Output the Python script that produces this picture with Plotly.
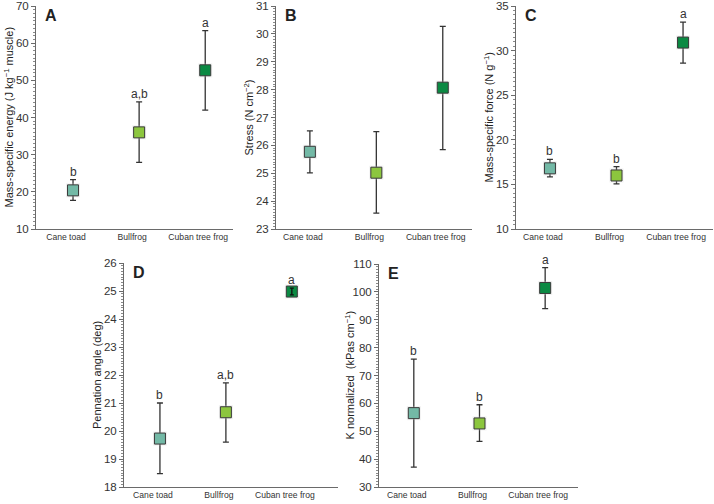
import plotly.graph_objects as go

W, H = 714, 504

categories = ["Cane toad", "Bullfrog", "Cuban tree frog"]
colors = ["#73b9a6", "#8cc63e", "#0b8a43"]

energy_mean = [20.4, 36.0, 52.7]
energy_upper = [23.3, 44.2, 63.4]
energy_lower = [17.7, 27.9, 42.0]
energy_letters = ["b", "a,b", "a"]

stress_mean = [25.77, 25.02, 28.07]
stress_upper = [26.52, 26.49, 30.27]
stress_lower = [25.01, 23.57, 25.85]
stress_letters = ["", "", ""]

force_mean = [16.8, 16.0, 30.9]
force_upper = [17.8, 17.0, 33.2]
force_lower = [15.85, 15.05, 28.6]
force_letters = ["b", "b", "a"]

pennation_mean = [19.73, 20.67, 24.98]
pennation_upper = [21.0, 21.72, 25.1]
pennation_lower = [18.48, 19.6, 24.86]
pennation_letters = ["b", "a,b", "a"]

k_mean = [56.5, 52.8, 101.4]
k_upper = [75.9, 59.5, 108.7]
k_lower = [37.1, 46.4, 94.0]
k_letters = ["b", "b", "a"]

FONT = "Liberation Sans, Arial, sans-serif"

panels = [
    ("A", "Mass-specific energy (J kg<sup>−1</sup> muscle)", energy_mean, energy_upper, energy_lower, energy_letters,
     [10, 70], 10, 1, 36, 233, 6, 229, [-0.56, 2.42], 8),
    ("B", "Stress (N cm<sup>−2</sup>)", stress_mean, stress_upper, stress_lower, stress_letters,
     [23, 31], 1, 0.1, 276, 472, 6, 229, [-0.51, 2.44], 248),
    ("C", "Mass-specific force (N g<sup>−1</sup>)", force_mean, force_upper, force_lower, force_letters,
     [10, 35], 5, 0.5, 516, 713, 6, 229, [-0.51, 2.45], 488),
    ("D", "Pennation angle (deg)", pennation_mean, pennation_upper, pennation_lower, pennation_letters,
     [18, 26], 1, 0.1, 124, 338, 263, 487, [-0.545, 2.70], 97),
    ("E", "K normalized  (kPas cm<sup>−1</sup>)", k_mean, k_upper, k_lower, k_letters,
     [30, 110], 10, 1, 379, 578, 264, 487, [-0.53, 2.50], 349),
]

fig = go.Figure()
annotations = []
ERR = "#333333"

for i, (lab, ytitle, mean, up, lo, letters, yr, dt, mn, xl, xr, yt, yb, xrng, tx) in enumerate(panels):
    n = "" if i == 0 else str(i + 1)
    xa, ya = "x" + n, "y" + n
    xs = list(range(len(categories)))
    plus = [u - m for u, m in zip(up, mean)]
    minus = [m - l for m, l in zip(mean, lo)]
    # error bars
    fig.add_trace(go.Scatter(
        x=xs, y=mean, mode="markers", xaxis=xa, yaxis=ya,
        marker=dict(size=1, color="rgba(0,0,0,0)"),
        error_y=dict(type="data", symmetric=False, array=plus, arrayminus=minus,
                     color=ERR, thickness=1.3, width=3),
        showlegend=False, hoverinfo="skip"))
    # soft halo
    fig.add_trace(go.Scatter(
        x=xs, y=mean, mode="markers", xaxis=xa, yaxis=ya,
        marker=dict(symbol="square", size=14, color="rgba(210,210,210,0.3)", line=dict(width=0)),
        showlegend=False, hoverinfo="skip"))
    # markers
    fig.add_trace(go.Scatter(
        x=xs, y=mean, mode="markers", xaxis=xa, yaxis=ya,
        marker=dict(symbol="square", size=11, color=colors, line=dict(color="#3a3a3a", width=1)),
        showlegend=False))
    # errors that fit inside the marker stay visible on top
    if lab == "D":
        idx = [k for k in xs if (plus[k] + minus[k]) < 0.4]
        fig.add_trace(go.Scatter(
            x=[xs[k] for k in idx], y=[mean[k] for k in idx], mode="markers", xaxis=xa, yaxis=ya,
            marker=dict(size=1, color="rgba(0,0,0,0)"),
            error_y=dict(type="data", symmetric=False,
                         array=[plus[k] for k in idx], arrayminus=[minus[k] for k in idx],
                         color="#111111", thickness=1.3, width=2),
            showlegend=False, hoverinfo="skip"))
    # significance letters
    for k, t in enumerate(letters):
        if t:
            annotations.append(dict(
                text=t, x=xs[k], y=up[k], xref=xa, yref=ya, showarrow=False,
                xanchor="center", yanchor="bottom", yshift=-1,
                font=dict(family=FONT, size=12, color="#333333")))

    xdom = [xl / W, xr / W]
    ydom = [1 - yb / H, 1 - yt / H]
    fig.layout["xaxis" + n] = dict(
        domain=xdom, range=xrng, anchor=ya, tickmode="array", tickvals=xs, ticktext=categories,
        showline=True, linecolor="#6a6a6a", linewidth=1, ticks="", showgrid=False, zeroline=False,
        ticklabelshift=-7, automargin=False,
        tickfont=dict(family=FONT, size=8.6, color="#333333"), fixedrange=True)
    fig.layout["yaxis" + n] = dict(
        domain=ydom, range=yr, anchor=xa, dtick=dt, tick0=yr[0],
        showline=True, linecolor="#6a6a6a", linewidth=1, ticks="outside", ticklen=4, tickwidth=1,
        tickcolor="#6a6a6a", showgrid=False, zeroline=False, automargin=False,
        minor=dict(dtick=mn, tick0=yr[0], ticks="outside", ticklen=2.5, tickcolor="#8a8a8a", tickwidth=1,
                   showgrid=False),
        tickfont=dict(family=FONT, size=11.5, color="#333333"), fixedrange=True)

    annotations.append(dict(
        text=ytitle, x=tx / W, y=1 - (yt + yb) / 2 / H, xref="paper", yref="paper",
        textangle=-90, showarrow=False, xanchor="center", yanchor="middle",
        font=dict(family=FONT, size=11, color="#222222")))
    annotations.append(dict(
        text="<b>%s</b>" % lab, x=(xl + 7) / W, y=1 - (yt + 9) / H, xref="paper", yref="paper",
        showarrow=False, xanchor="left", yanchor="middle",
        font=dict(family=FONT, size=16, color="#222222")))

fig.update_layout(
    template="none",
    width=W, height=H, margin=dict(l=0, r=0, t=0, b=0, autoexpand=False),
    paper_bgcolor="white", plot_bgcolor="white",
    annotations=annotations, showlegend=False)

fig.write_html("out.html", config={"displayModeBar": False},
               post_script="document.body.style.margin='0px';document.body.style.padding='0px';")
